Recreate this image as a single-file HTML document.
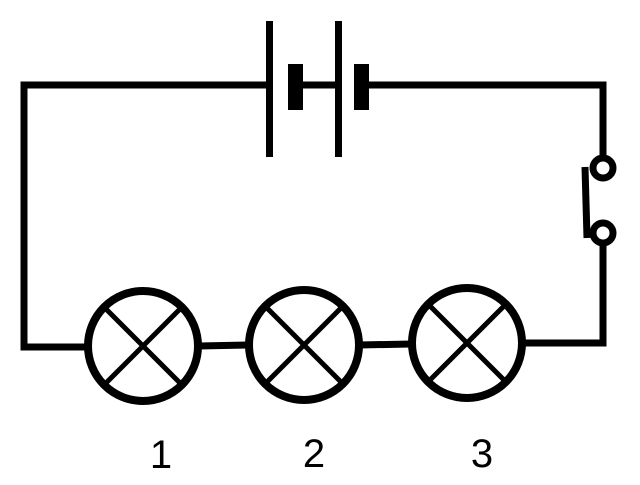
<!DOCTYPE html>
<html><head><style>html,body{margin:0;padding:0;background:#fff}</style></head><body>
<svg width="640" height="480" viewBox="0 0 640 480" xmlns="http://www.w3.org/2000/svg">
<g fill="none" stroke="#000" stroke-width="7">
<polyline points="269,85 24,85 24,347 88,347"/>
<line x1="295" y1="85" x2="338" y2="85"/>
<polyline points="361,85 603,85 603,158"/>
<polyline points="603,243 603,343 524,343"/>
<circle cx="603" cy="168" r="10"/>
<circle cx="603" cy="233" r="10"/>
<line x1="585" y1="167" x2="587" y2="238"/>
<line x1="199" y1="346" x2="248" y2="345"/>
<line x1="359" y1="345" x2="411" y2="344"/>
<g stroke-width="8">
<circle cx="143" cy="346" r="55"/>
<circle cx="304" cy="345" r="55"/>
<circle cx="467" cy="343" r="55"/>
</g>
<g stroke-width="5">
<line x1="104" y1="307" x2="182" y2="385"/><line x1="182" y1="307" x2="104" y2="385"/>
<line x1="265" y1="306" x2="343" y2="384"/><line x1="343" y1="306" x2="265" y2="384"/>
<line x1="428" y1="304" x2="506" y2="382"/><line x1="506" y1="304" x2="428" y2="382"/>
</g>
</g>
<rect x="266" y="21" width="7" height="136" fill="#000"/>
<rect x="335" y="21" width="7" height="136" fill="#000"/>
<rect x="288" y="64" width="15" height="46" fill="#000"/>
<rect x="354" y="64" width="15" height="46" fill="#000"/>
<g font-family="Liberation Sans, sans-serif" font-size="40" fill="#000" text-anchor="middle">
<text x="161" y="468">1</text>
<text x="314" y="467">2</text>
<text x="482" y="467">3</text>
</g>
</svg>
</body></html>
